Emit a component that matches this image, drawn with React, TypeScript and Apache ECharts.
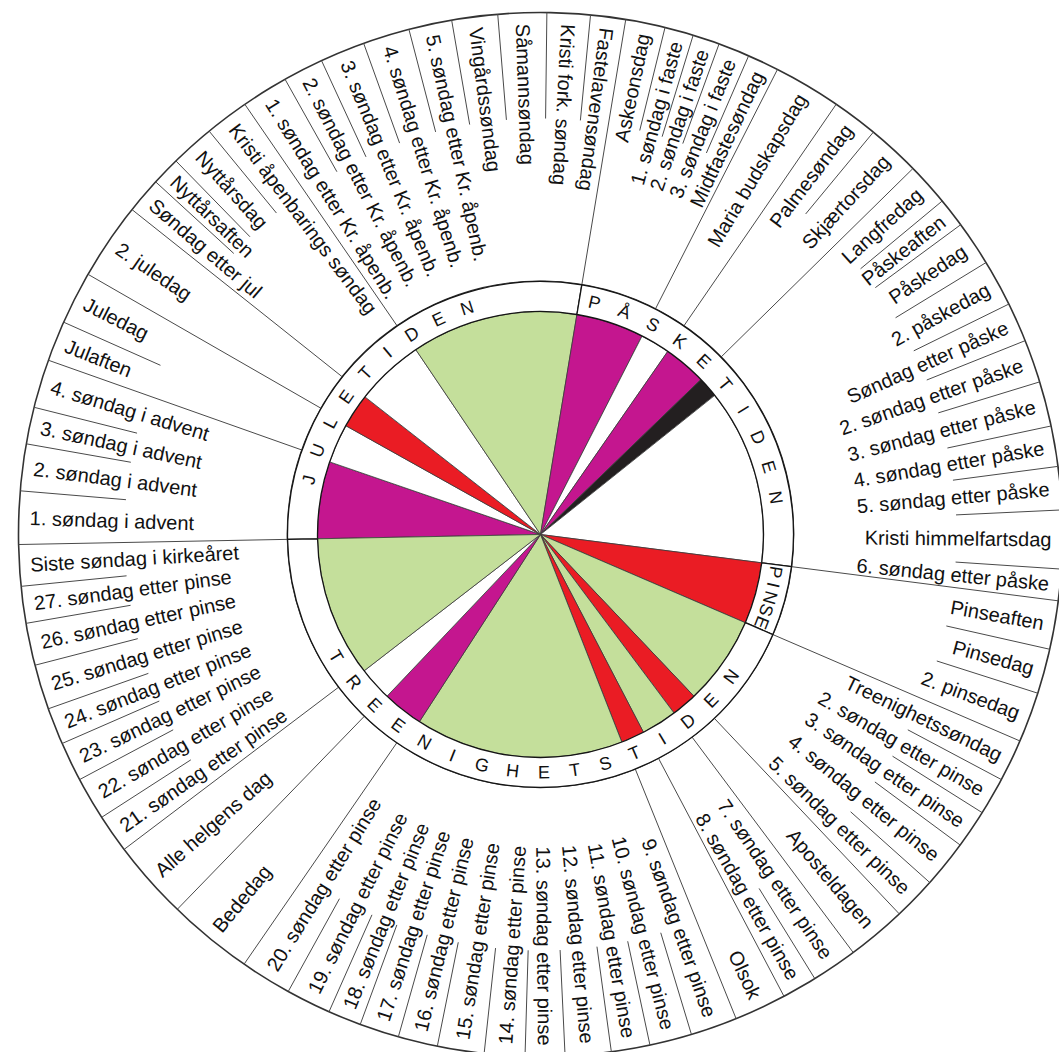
import React, { useEffect, useRef } from 'react';
import * as echarts from 'echarts';

// ---------- geometry (pixels) ----------
const CX = 540.5;
const CY = 534.5;
const R_PIE = 223;
const R_RING = 253;
const R_OUT = 522;
const R_LABEL = 511;
const R_TICK = 416;
const R_LETTER = 238;
const START = 181.1; // start angle (deg, counter-clockwise from east)
const FLIP = 81; // labels above this angle read inward
const FONT = '"Liberation Sans", Arial, Helvetica, sans-serif';

// ---------- inner wheel: liturgical colours ----------
const pieColors = [
  'purple', 'white', 'red', 'white', 'green', 'purple', 'white', 'purple', 'black', 'white',
  'red', 'green', 'red', 'green', 'red', 'green', 'purple', 'white', 'green',
];
const pieSpans = [
  20.1, 10.2, 8.9, 17.9, 43.4, 17.7, 7.7, 11.2, 5.4, 45.9,
  16, 23.2, 6.7, 9.3, 6.1, 54.3, 10.6, 8.8, 36.6,
];
const colorMap: Record<string, string> = {
  purple: '#c4168f',
  white: '#ffffff',
  red: '#ea1c24',
  green: '#c4df9b',
  black: '#231f20',
};

// ---------- ring: church seasons ----------
const seasonNames = ['JULETIDEN', 'PÅSKETIDEN', 'PINSE', 'TREENIGHETSTIDEN'];
const seasonSpans = [100.5, 87.9, 16, 155.6];
const seasonLetterStart = [166.7, 76.9, -9.1, 210.8];
const seasonLetterStep = [-7.34, -7.55, -3.15, 7.5];
const seasonLetterFacing = ['out', 'out', 'out', 'in'];

// ---------- outer band: days ----------
const labels = [
  '1. søndag i advent', '2. søndag i advent', '3. søndag i advent', '4. søndag i advent',
  'Julaften', 'Juledag',
  '2. juledag',
  'Søndag etter jul', 'Nyttårsaften', 'Nyttårsdag', 'Kristi åpenbarings søndag',
  '1. søndag etter Kr. åpenb.', '2. søndag etter Kr. åpenb.', '3. søndag etter Kr. åpenb.',
  '4. søndag etter Kr. åpenb.', '5. søndag etter Kr. åpenb.', 'Vingårdssøndag', 'Såmannsøndag',
  'Kristi fork. søndag', 'Fastelavensøndag',
  'Askeonsdag', '1. søndag i faste', '2. søndag i faste', '3. søndag i faste', 'Midtfastesøndag',
  'Maria budskapsdag',
  'Palmesøndag', 'Skjærtorsdag',
  'Langfredag', 'Påskeaften', 'Påskedag', '2. påskedag', 'Søndag etter påske',
  '2. søndag etter påske', '3. søndag etter påske', '4. søndag etter påske', '5. søndag etter påske',
  'Kristi himmelfartsdag', '6. søndag etter påske',
  'Pinseaften', 'Pinsedag', '2. pinsedag',
  'Treenighetssøndag', '2. søndag etter pinse', '3. søndag etter pinse', '4. søndag etter pinse',
  '5. søndag etter pinse',
  'Aposteldagen',
  '7. søndag etter pinse', '8. søndag etter pinse',
  'Olsok',
  '9. søndag etter pinse', '10. søndag etter pinse', '11. søndag etter pinse', '12. søndag etter pinse',
  '13. søndag etter pinse', '14. søndag etter pinse', '15. søndag etter pinse', '16. søndag etter pinse',
  '17. søndag etter pinse', '18. søndag etter pinse', '19. søndag etter pinse', '20. søndag etter pinse',
  'Bededag',
  'Alle helgens dag',
  '21. søndag etter pinse', '22. søndag etter pinse', '23. søndag etter pinse', '24. søndag etter pinse',
  '25. søndag etter pinse', '26. søndag etter pinse', '27. søndag etter pinse', 'Siste søndag i kirkeåret',
];
// angle (deg) where each label's wedge ends, going clockwise from START
const labelEnds = [
  175.2, 170.0, 165.9, 160.5,
  156.0, 150.1,
  141.5,
  137.5, 134.3, 129.4, 124.5,
  119.3, 114.8, 109.8, 104.6, 99.8, 94.7, 89.3, 84.5, 80.6,
  76.2, 73.0, 70.0, 66.5, 63.0,
  55.5,
  50.4, 44.5,
  39.7, 36.4, 31.4, 26.2, 21.8, 17.0, 12.0, 7.5, 2.7, -3.8, -7.3,
  -12.7, -17.7, -23.3,
  -28.0, -32.2, -36.5, -41.8, -46.6,
  -53.2,
  -58.3, -62.2,
  -68.0,
  -73.2, -77.9, -82.2, -87.3, -91.7, -96.2, -101.4, -105.8, -110.2, -113.9, -118.9, -124.6,
  -134.1,
  -142.9,
  -147.2, -152.0, -156.4, -160.5, -165.5, -170.2, -174.3, -178.9,
];
const groupSizes = [4, 2, 1, 4, 9, 5, 1, 2, 11, 3, 5, 1, 2, 1, 12, 1, 1, 8];

const norm = (a: number) => ((a % 360) + 360) % 360;

function buildOption() {
  // label mid angles
  const labelData: number[][] = [];
  let prev = START;
  labelEnds.forEach((end, i) => {
    labelData.push([R_LABEL, norm((prev + end) / 2), i]);
    prev = end;
  });

  // separators
  const groupEndIdx = new Set<number>();
  let acc = 0;
  groupSizes.forEach((g) => {
    acc += g;
    groupEndIdx.add(acc - 1);
  });
  const spokeData = labelEnds.map((end, i) => [
    groupEndIdx.has(i) ? R_RING : R_TICK,
    norm(end),
    R_OUT,
  ]);

  // ring letters
  const letterData: number[][] = [];
  const letterText: string[] = [];
  const letterFacing: string[] = [];
  seasonNames.forEach((name, s) => {
    Array.from(name).forEach((ch, k) => {
      letterData.push([R_LETTER, norm(seasonLetterStart[s] + k * seasonLetterStep[s])]);
      letterText.push(ch);
      letterFacing.push(seasonLetterFacing[s]);
    });
  });

  const pieBase = {
    type: 'pie',
    center: [CX, CY],
    startAngle: START,
    clockwise: true,
    silent: true,
    avoidLabelOverlap: false,
    label: { show: false },
    labelLine: { show: false },
    emphasis: { disabled: true },
    minAngle: 0,
  };

  return {
    animation: false,
    backgroundColor: '#ffffff',
    polar: { center: [CX, CY], radius: R_OUT },
    radiusAxis: {
      type: 'value', min: 0, max: R_OUT, show: false,
      axisLine: { show: false }, axisTick: { show: false }, axisLabel: { show: false }, splitLine: { show: false },
    },
    angleAxis: {
      type: 'value', min: 0, max: 360, startAngle: 0, clockwise: false, show: false,
      axisLine: { show: false }, axisTick: { show: false }, axisLabel: { show: false }, splitLine: { show: false },
    },
    series: [
      {
        ...pieBase,
        name: 'band',
        radius: [R_RING, R_OUT],
        z: 1,
        data: [{ value: 360, itemStyle: { color: '#ffffff', borderColor: '#333333', borderWidth: 1.6 } }],
      },
      {
        ...pieBase,
        name: 'colours',
        radius: [0, R_PIE],
        z: 2,
        data: pieSpans.map((v, i) => ({
          value: v,
          name: pieColors[i] + i,
          itemStyle: { color: colorMap[pieColors[i]], borderColor: '#3a3a3a', borderWidth: 0.8 },
        })),
      },
      {
        type: 'custom',
        name: 'spokes',
        coordinateSystem: 'polar',
        silent: true,
        z: 3,
        data: spokeData,
        renderItem: (params: any, api: any) => {
          const a = api.value(1);
          const p0 = api.coord([api.value(0), a]);
          const p1 = api.coord([api.value(2), a]);
          return {
            type: 'line',
            shape: { x1: p0[0], y1: p0[1], x2: p1[0], y2: p1[1] },
            style: { stroke: '#4a4a4a', lineWidth: 1 },
          };
        },
      },
      {
        ...pieBase,
        name: 'seasons',
        radius: [R_PIE, R_RING],
        z: 4,
        data: seasonSpans.map((v, i) => ({
          value: v,
          name: seasonNames[i],
          itemStyle: { color: '#ffffff', borderColor: '#151515', borderWidth: 1.3 },
        })),
      },
      {
        type: 'custom',
        name: 'letters',
        coordinateSystem: 'polar',
        silent: true,
        z: 5,
        data: letterData,
        renderItem: (params: any, api: any) => {
          const i = params.dataIndex;
          const a = api.value(1);
          const p = api.coord([api.value(0), a]);
          const rotDeg = letterFacing[i] === 'out' ? a - 90 : a + 90;
          return {
            type: 'text',
            x: p[0],
            y: p[1],
            rotation: (rotDeg * Math.PI) / 180,
            style: {
              text: letterText[i],
              fill: '#111111',
              fontSize: 18,
              fontFamily: FONT,
              align: 'center',
              verticalAlign: 'middle',
            },
          };
        },
      },
      {
        type: 'custom',
        name: 'days',
        coordinateSystem: 'polar',
        silent: true,
        z: 6,
        data: labelData,
        renderItem: (params: any, api: any) => {
          const i = params.dataIndex;
          const a = api.value(1);
          const p = api.coord([api.value(0), a]);
          const n = a > 270 ? a - 360 : a;
          const inward = n > FLIP;
          const rotDeg = inward ? n - 180 : n;
          return {
            type: 'text',
            x: p[0],
            y: p[1],
            rotation: (rotDeg * Math.PI) / 180,
            style: {
              text: labels[i],
              fill: '#111111',
              fontSize: 20,
              fontFamily: FONT,
              align: inward ? 'left' : 'right',
              verticalAlign: 'middle',
            },
          };
        },
      },
    ],
  };
}

export default function App() {
  const ref = useRef<HTMLDivElement>(null);
  useEffect(() => {
    if (!ref.current) return;
    const chart = echarts.init(ref.current, undefined, { renderer: 'svg' });
    chart.setOption(buildOption() as any);
    return () => chart.dispose();
  }, []);
  return (
    <div
      ref={ref}
      style={{ position: 'fixed', left: 0, top: 0, width: 1059, height: 1052, background: '#fff' }}
    />
  );
}
